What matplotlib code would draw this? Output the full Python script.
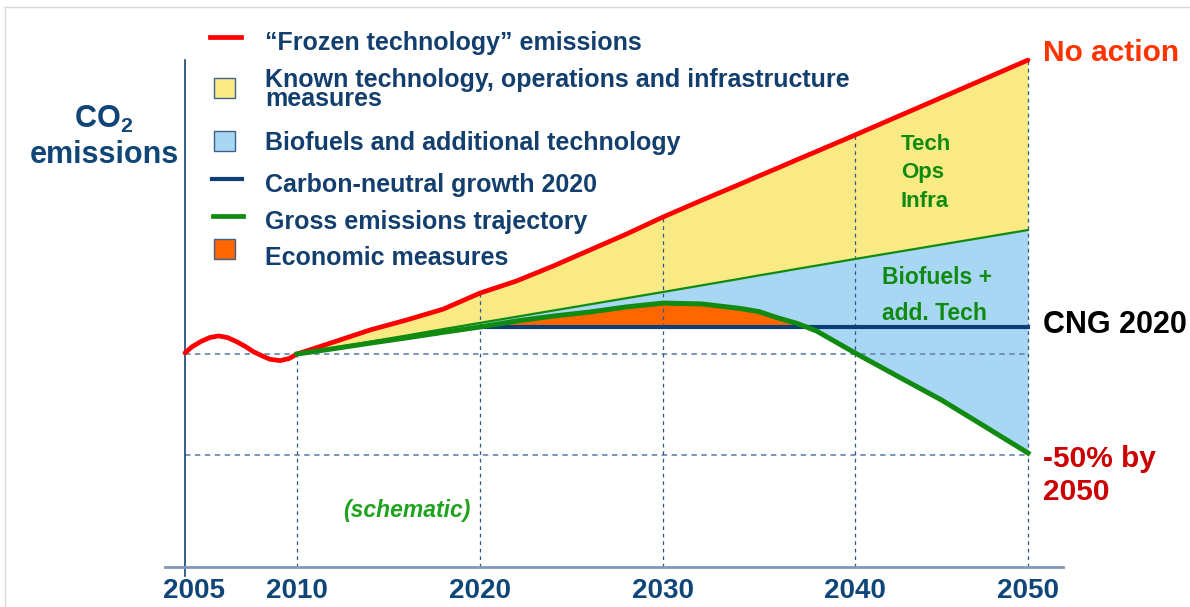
import numpy as np
import matplotlib.pyplot as plt
from matplotlib.lines import Line2D
from matplotlib.patches import Rectangle
from matplotlib.transforms import ScaledTranslation

plt.rcParams['font.family'] = ['Liberation Sans', 'DejaVu Sans']
plt.rcParams['mathtext.fontset'] = 'custom'
plt.rcParams['mathtext.rm'] = 'Liberation Sans:bold'
plt.rcParams['mathtext.default'] = 'rm'

# ---- data (index, 2010 level = 100) ----
tick_years = [2005, 2010, 2020, 2030, 2040, 2050]
tick_labels = ['2005', '2010', '2020', '2030', '2040', '2050']

# red "frozen technology" wiggle before 2010
early_years = [2005.0, 2005.3, 2005.7, 2006.1, 2006.5, 2006.9, 2007.3, 2007.7,
               2008.05, 2008.45, 2008.8, 2009.25, 2009.65]
early_red = [100.5, 103.3, 105.8, 107.7, 108.5, 107.7, 105.8, 103.5,
             101.1, 99.1, 97.5, 96.9, 97.9]

years = np.array([2010, 2012, 2014, 2016, 2018, 2020, 2022, 2024, 2026, 2028, 2030,
                  2032, 2034, 2035, 2036, 2037, 2038, 2040, 2042.5, 2045, 2047.5, 2050])
frozen = np.array([100, 105.6, 111.3, 116.0, 121.1, 128.6, 134.3, 141.3, 148.8, 156.3, 164.3,
                   172.1, 179.7, 183.6, 187.4, 191.3, 195.1, 202.8, 211.6, 220.4, 229.2, 238.0])
known_tech = np.array([100, 102.9, 105.8, 108.7, 111.7, 114.6, 117.5, 120.4, 123.3, 126.2, 129.1,
                       132.2, 135.3, 136.9, 138.4, 140.0, 141.5, 144.6, 148.0, 151.4, 154.8, 158.2])
gross = np.array([100, 102.5, 105.1, 107.6, 110.2, 112.7, 115.5, 117.8, 119.7, 122.1, 123.9,
                  123.5, 121.4, 119.9, 116.9, 114.3, 110.8, 100.5, 89.4, 78.4, 66.0, 53.5])
cng_start = 2020
cng_level = 112.7
half_level = 52.6

# ---- x mapping (schematic, uneven spacing of years) ----
map_years = [1990, 2005, 2010, 2020, 2030, 2040, 2050, 2070]
map_pos = [-151, 185, 297, 480, 663, 855, 1028, 1374]


def fwd(x):
    return np.interp(x, map_years, map_pos)


def inv(p):
    return np.interp(p, map_pos, map_years)


W, H = 1190, 607
fig = plt.figure(figsize=(W / 100, H / 100), dpi=100)
ax = fig.add_axes([165 / W, 40 / H, 898 / W, 511.2 / H])
ax.set_xscale('function', functions=(fwd, inv))
ax.set_xlim(inv(165), inv(1063))
ax.set_ylim(0, 240)

navy = '#0f4577'
green = '#118a11'
red = '#ff0000'

# fills
ax.fill_between(years, known_tech, frozen, color='#f9ea84', lw=0, zorder=1)
ax.fill_between(years, gross, known_tech, color='#a8d7f3', lw=0, zorder=1)
cng = np.full_like(years, cng_level, dtype=float)
ax.fill_between(years, cng, gross, where=(years >= cng_start) & (gross >= cng),
                interpolate=True, color='#ff6600', lw=0, zorder=1)

# dashed guide lines
ax.hlines([100, half_level], 2005, 2050, colors='#6d8cb5', linestyles=(0, (3, 2.5)), lw=1.3, zorder=2)
tops = [100] + [frozen[years == y][0] for y in tick_years[2:]]
ax.vlines(tick_years[1:], 0, tops, colors='#2c5a8c', linestyles=(0, (3, 3)), lw=0.9, zorder=2)

# lines
all_years = np.concatenate([early_years, years])
all_red = np.concatenate([early_red, frozen])
ax.plot(all_years, all_red, color=red, lw=3.4, solid_capstyle='round',
        solid_joinstyle='round', zorder=5)
ax.plot(years, known_tech, color=green, lw=1.6, zorder=3)
ax.plot([cng_start, 2050], [cng_level, cng_level], color='#0d3f76', lw=3.0, zorder=4)
ax.plot(years, gross, color=green, lw=3.6, solid_joinstyle='round', zorder=6)

# axes styling
for s in ['top', 'right']:
    ax.spines[s].set_visible(False)
ax.spines['left'].set_position(('data', 2005))
ax.spines['left'].set_bounds(-4, 238)
ax.spines['left'].set_color(navy)
ax.spines['left'].set_linewidth(1.2)
ax.spines['bottom'].set_color('#7f98b8')
ax.spines['bottom'].set_linewidth(2)
ax.set_yticks([])
ax.set_xticks(tick_years)
ax.set_xticklabels(tick_labels, fontsize=20, fontweight='bold', color=navy)
ax.tick_params(axis='x', length=0, pad=8)
lbl = ax.get_xticklabels()[0]
lbl.set_transform(lbl.get_transform() + ScaledTranslation(9 / 100, 0, fig.dpi_scale_trans))


def ftext(x, y, s, **kw):
    fig.text(x / W, 1 - y / H, s, va='baseline', fontweight='bold', **kw)


# y label
ftext(104, 128, 'CO$_2$', fontsize=22, color=navy, ha='center')
ftext(104, 163, 'emissions', fontsize=22, color=navy, ha='center')

# annotations
ftext(1043, 61, 'No action', fontsize=21.5, color='#ff3300')
ftext(1043, 333, 'CNG 2020', fontsize=22, color='black')
ftext(1043, 467, '-50% by', fontsize=21.5, color='#cc0000')
ftext(1043, 500, '2050', fontsize=21.5, color='#cc0000')
ftext(901, 150, 'Tech', fontsize=16, color=green)
ftext(901, 178, 'Ops', fontsize=16, color=green)
ftext(901, 207, 'Infra', fontsize=16, color=green)
ftext(882, 284, 'Biofuels +', fontsize=16.5, color=green)
ftext(882, 320, 'add. Tech', fontsize=16.5, color=green)
ftext(343, 517, '(schematic)', fontsize=16.5, color='#1fa31f', style='italic')

# legend (manual, to match slide layout)
leg_color = '#133f6e'
fig.add_artist(Line2D([210 / W, 241 / W], [1 - 37 / H] * 2, color=red, lw=3.4))
fig.add_artist(Rectangle((214 / W, 1 - 98 / H), 21 / W, 20 / H, facecolor='#f9ea84',
                         edgecolor='#3d5f8a', lw=1))
fig.add_artist(Rectangle((214 / W, 1 - 151 / H), 21 / W, 20 / H, facecolor='#a8d7f3',
                         edgecolor='#3d5f8a', lw=1))
fig.add_artist(Line2D([212 / W, 242 / W], [1 - 179 / H] * 2, color='#0d3f76', lw=3.0))
fig.add_artist(Line2D([213 / W, 243 / W], [1 - 216 / H] * 2, color=green, lw=3.4))
fig.add_artist(Rectangle((214 / W, 1 - 259 / H), 21 / W, 20 / H, facecolor='#ff6600',
                         edgecolor='#3d5f8a', lw=1))
ftext(265, 50, '\u201cFrozen technology\u201d emissions', fontsize=18, color=leg_color)
# baseline of a two-line text is taken from its last line
ftext(265, 106, 'Known technology, operations and infrastructure\nmeasures',
      fontsize=18, color=leg_color, linespacing=0.72)
ftext(265, 150, 'Biofuels and additional technology', fontsize=18, color=leg_color)
ftext(265, 192, 'Carbon-neutral growth 2020', fontsize=18, color=leg_color)
ftext(265, 229, 'Gross emissions trajectory', fontsize=18, color=leg_color)
ftext(265, 265, 'Economic measures', fontsize=18, color=leg_color)

# slide frame
fig.add_artist(Line2D([5 / W, 1], [1 - 7 / H] * 2, color='#d9d9d9', lw=1))
fig.add_artist(Line2D([5 / W, 5 / W], [0, 1 - 7 / H], color='#d9d9d9', lw=1))

fig.savefig('out.png', dpi=100)
